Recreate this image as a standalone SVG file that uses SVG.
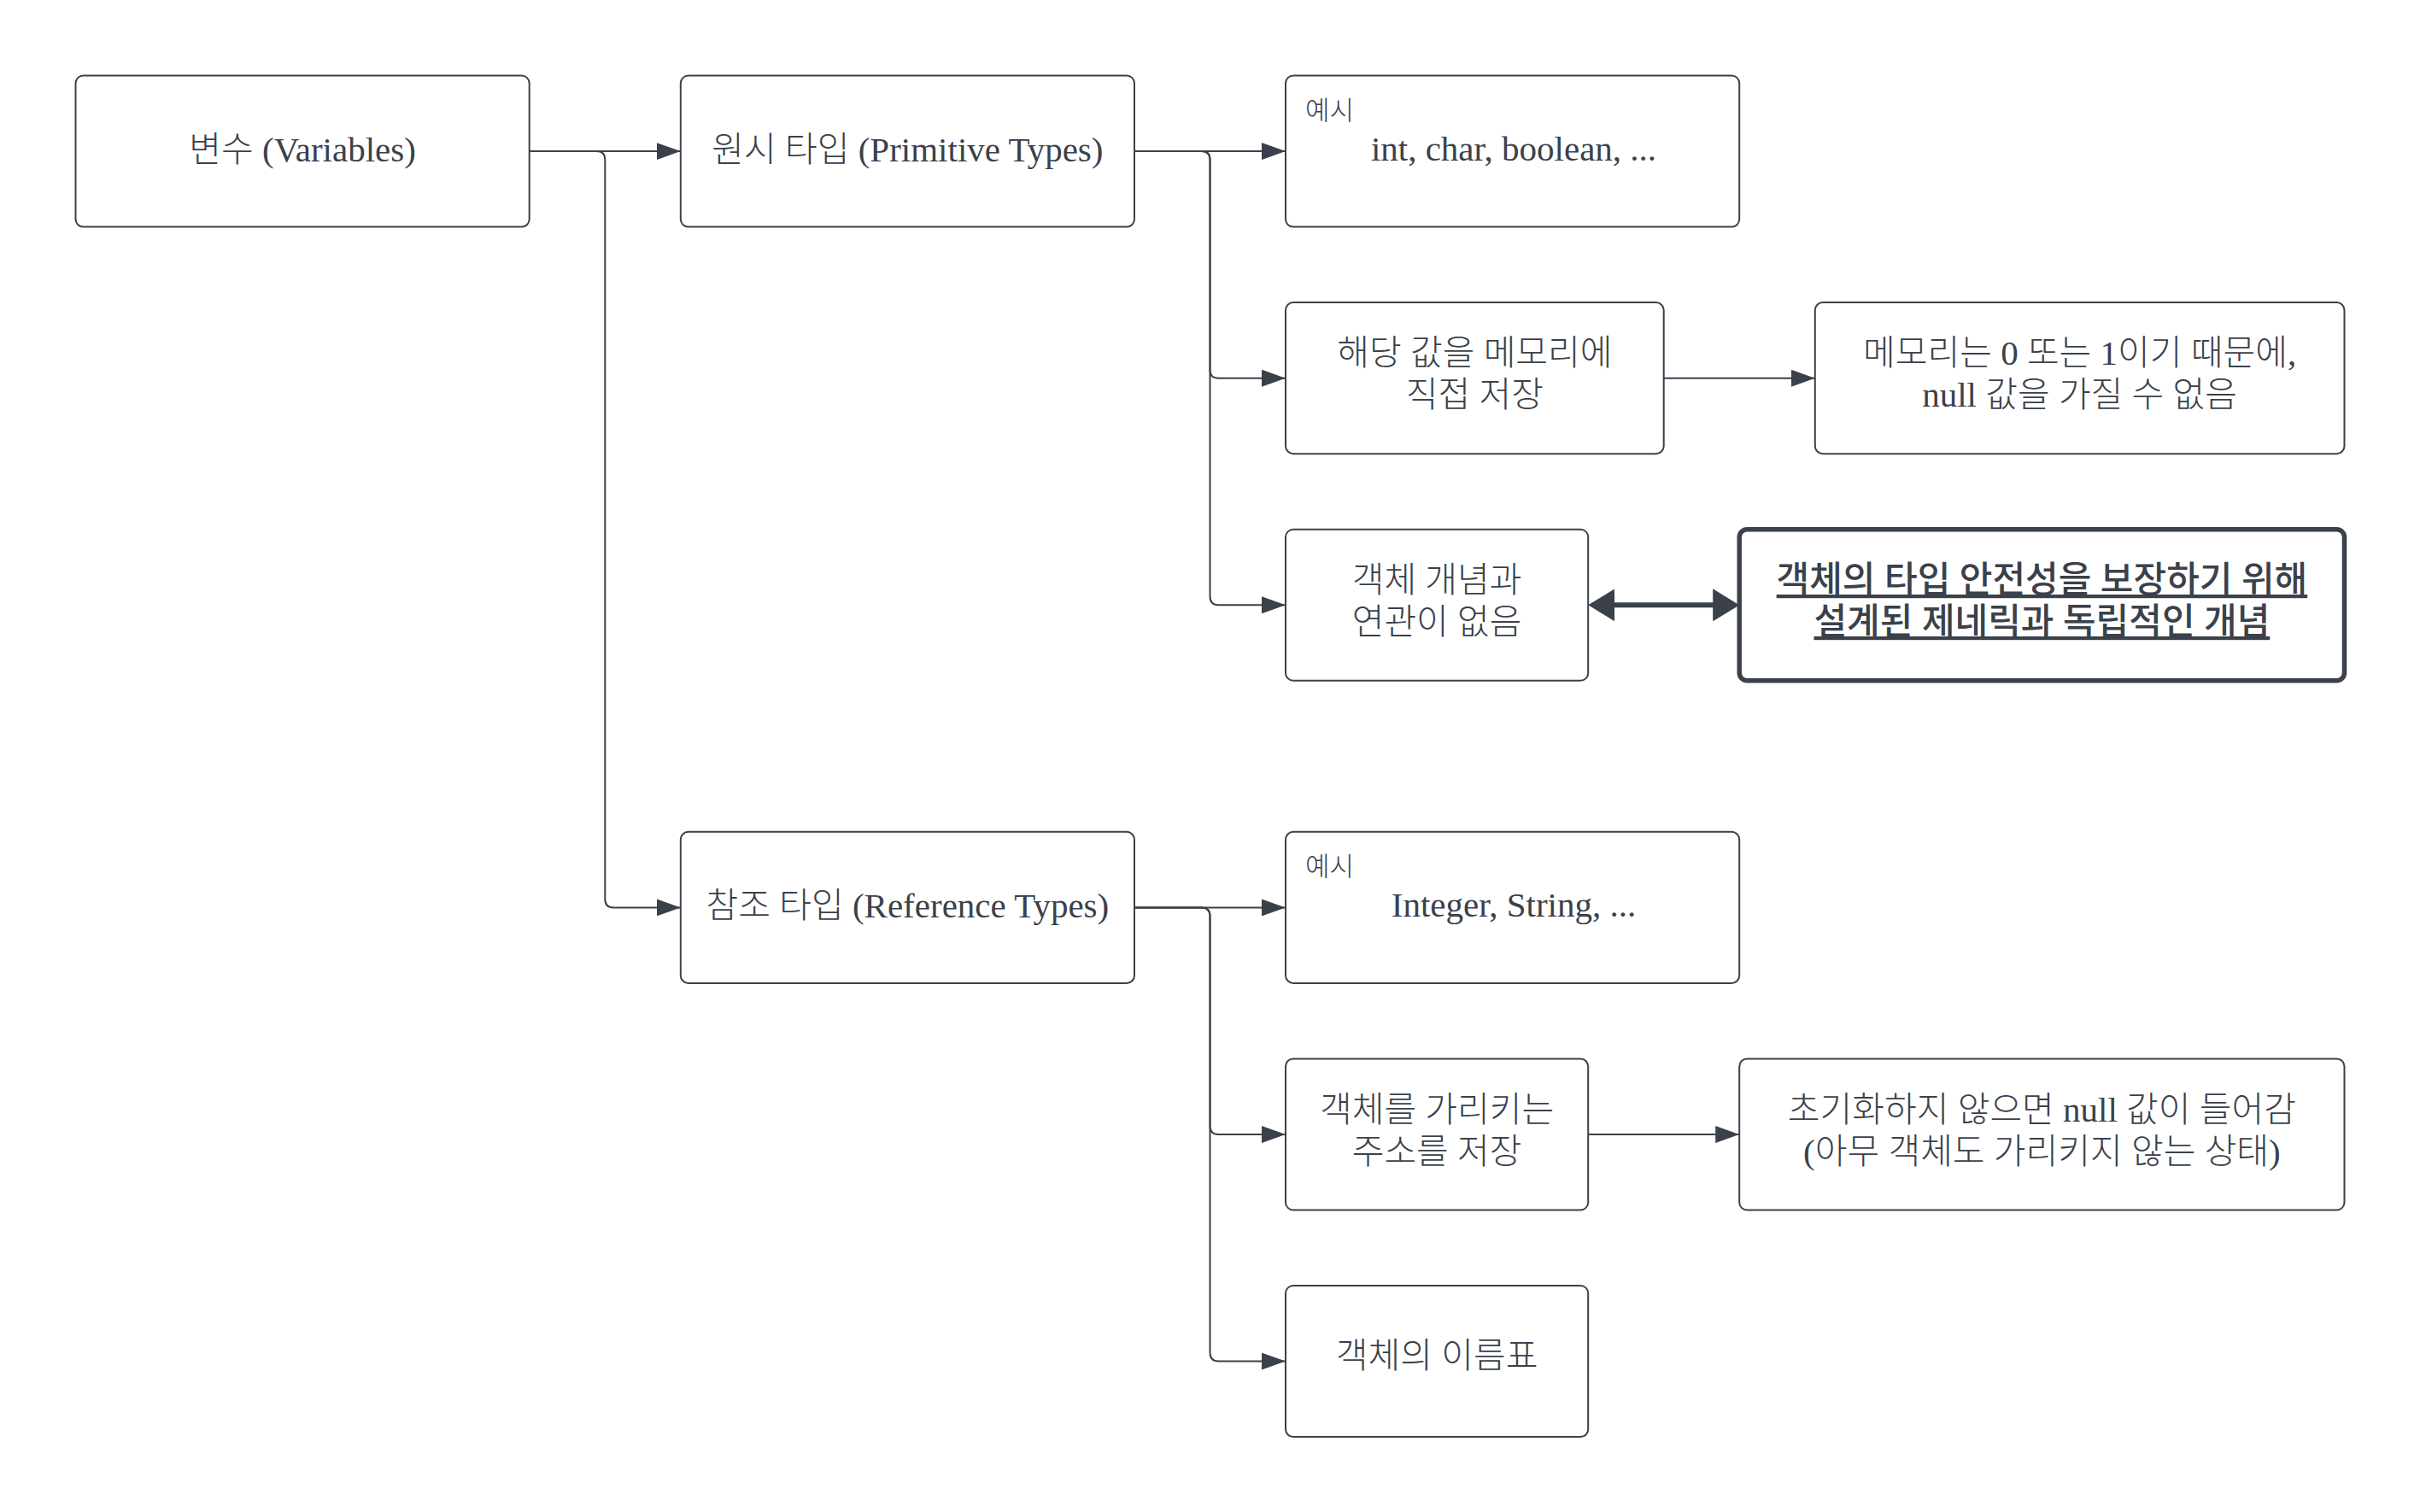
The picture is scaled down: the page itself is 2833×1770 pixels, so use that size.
<svg xmlns="http://www.w3.org/2000/svg" width="2833" height="1770" viewBox="0 0 2833 1770">
<style>
.box{fill:#ffffff;stroke:#3a414a;stroke-width:2}
.bold{fill:#ffffff;stroke:#3a414a;stroke-width:5.5}
.t{font-family:'Liberation Serif','Noto Sans CJK KR',serif;font-size:41px;font-weight:300;fill:#3a414a;text-anchor:middle}
.tb{font-weight:500;font-size:42px;text-decoration:underline}
.lbl{font-family:'Liberation Serif','Noto Sans CJK KR',serif;font-size:31px;font-weight:300;fill:#3a414a}
.c{fill:none;stroke:#3a414a;stroke-width:2}
.ct{fill:none;stroke:#3a414a;stroke-width:6}
</style>
<defs>
<marker id="arr" viewBox="0 0 28 20" refX="28" refY="10" markerWidth="28" markerHeight="20" markerUnits="userSpaceOnUse" orient="auto">
<path d="M0,0 L28,10 L0,20 Z" fill="#3a414a"/>
</marker>
<marker id="arrB" viewBox="0 0 31 38" refX="1" refY="19" markerWidth="31" markerHeight="38" markerUnits="userSpaceOnUse" orient="auto-start-reverse">
<path d="M0,0 L31,19 L0,38 Z" fill="#3a414a"/>
</marker>
</defs>
<rect width="2833" height="1770" fill="#ffffff"/>

<g id="connectors">
<path class="c" d="M619.7,177.1 H796.8" marker-end="url(#arr)"/>
<path class="c" d="M619.7,177.1 H698.3 Q708.3,177.1 708.3,187.1 V1052.4 Q708.3,1062.4 718.3,1062.4 H796.8" marker-end="url(#arr)"/>
<path class="c" d="M1328,177.1 H1505" marker-end="url(#arr)"/>
<path class="c" d="M1328,177.1 H1406.5 Q1416.5,177.1 1416.5,187.1 V432.7 Q1416.5,442.7 1426.5,442.7 H1505" marker-end="url(#arr)"/>
<path class="c" d="M1328,177.1 H1406.5 Q1416.5,177.1 1416.5,187.1 V698.3 Q1416.5,708.3 1426.5,708.3 H1505" marker-end="url(#arr)"/>
<path class="c" d="M1947.7,442.7 H2124.8" marker-end="url(#arr)"/>
<path class="ct" d="M1889.2,708.3 H2006.2" marker-start="url(#arrB)" marker-end="url(#arrB)"/>
<path class="c" d="M1328,1062.4 H1505" marker-end="url(#arr)"/>
<path class="c" d="M1328,1062.4 H1406.5 Q1416.5,1062.4 1416.5,1072.4 V1318 Q1416.5,1328 1426.5,1328 H1505" marker-end="url(#arr)"/>
<path class="c" d="M1328,1062.4 H1406.5 Q1416.5,1062.4 1416.5,1072.4 V1583.6 Q1416.5,1593.6 1426.5,1593.6 H1505" marker-end="url(#arr)"/>
<path class="c" d="M1859.2,1328 H2036.2" marker-end="url(#arr)"/>
</g>

<g id="n-variables">
<rect class="box" x="88.5" y="88.5" width="531.2" height="177.1" rx="9"/>
<text class="t" x="354.1" y="189">변수 (Variables)</text>
</g>

<g id="n-primitive">
<rect class="box" x="796.8" y="88.5" width="531.2" height="177.1" rx="9"/>
<text class="t" x="1062.4" y="189">원시 타입 (Primitive Types)</text>
</g>

<g id="n-prim-example">
<rect class="box" x="1505" y="88.5" width="531.2" height="177.1" rx="9"/>
<text class="lbl" x="1528" y="140">예시</text>
<text class="t" x="1772" y="188">int, char, boolean, ...</text>
</g>

<g id="n-direct-store">
<rect class="box" x="1505" y="354.1" width="442.7" height="177.1" rx="9"/>
<text class="t" x="1726.4" y="427">해당 값을 메모리에</text>
<text class="t" x="1726.4" y="476">직접 저장</text>
</g>

<g id="n-no-null">
<rect class="box" x="2124.8" y="354.1" width="619.7" height="177.1" rx="9"/>
<text class="t" x="2434.6" y="427">메모리는 0 또는 1이기 때문에,</text>
<text class="t" x="2434.6" y="476">null 값을 가질 수 없음</text>
</g>

<g id="n-no-object">
<rect class="box" x="1505" y="619.7" width="354.2" height="177.1" rx="9"/>
<text class="t" x="1682.1" y="693">객체 개념과</text>
<text class="t" x="1682.1" y="742">연관이 없음</text>
</g>

<g id="n-generic">
<rect class="bold" x="2036.2" y="619.7" width="708.3" height="177.1" rx="9"/>
<text class="t tb" x="2390.4" y="693">객체의 타입 안전성을 보장하기 위해</text>
<text class="t tb" x="2390.4" y="742">설계된 제네릭과 독립적인 개념</text>
</g>

<g id="n-reference">
<rect class="box" x="796.8" y="973.8" width="531.2" height="177.1" rx="9"/>
<text class="t" x="1062.4" y="1074">참조 타입 (Reference Types)</text>
</g>

<g id="n-ref-example">
<rect class="box" x="1505" y="973.8" width="531.2" height="177.1" rx="9"/>
<text class="lbl" x="1528" y="1025">예시</text>
<text class="t" x="1772" y="1073">Integer, String, ...</text>
</g>

<g id="n-address">
<rect class="box" x="1505" y="1239.4" width="354.2" height="177.1" rx="9"/>
<text class="t" x="1682.1" y="1313">객체를 가리키는</text>
<text class="t" x="1682.1" y="1362">주소를 저장</text>
</g>

<g id="n-null-init">
<rect class="box" x="2036.2" y="1239.4" width="708.3" height="177.1" rx="9"/>
<text class="t" x="2390.4" y="1313">초기화하지 않으면 null 값이 들어감</text>
<text class="t" x="2390.4" y="1362">(아무 객체도 가리키지 않는 상태)</text>
</g>

<g id="n-nametag">
<rect class="box" x="1505" y="1505" width="354.2" height="177.1" rx="9"/>
<text class="t" x="1682.1" y="1601">객체의 이름표</text>
</g>
</svg>
